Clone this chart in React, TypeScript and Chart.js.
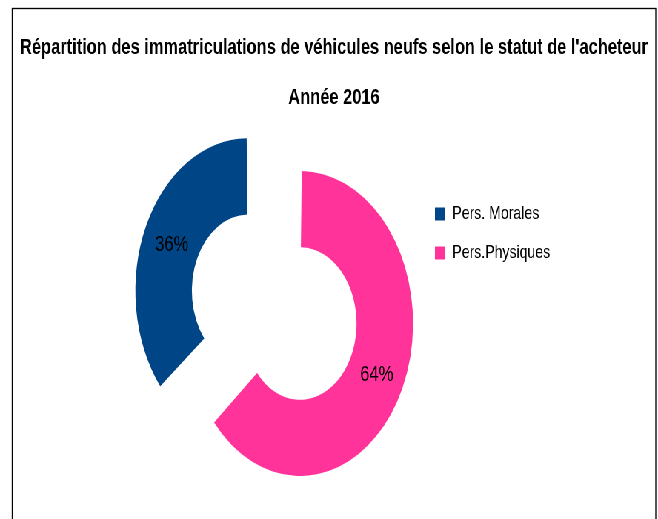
import React, { useEffect, useRef } from 'react';
import { Chart, registerables } from 'chart.js';

Chart.register(...registerables);

// ---- data ----
const categories = ['Pers. Morales', 'Pers.Physiques'];
const shares = [36, 64];
const sliceColors = ['#004586', '#ff3399'];
const titleLine = "Répartition des immatriculations de véhicules neufs selon le statut de l'acheteur";
const subtitleLine = 'Année 2016';

// ---- look ----
const FONT = "'Liberation Sans', Arial, Helvetica, sans-serif";
const SX = 0.741; // horizontal squeeze of the whole picture
const W = 888;
const H = 519;
const FRAME = { left: 16.5, top: 8.5, right: 885, bottom: 540 };
const LABEL_DY = 3;

export default function App() {
  const ref = useRef<HTMLCanvasElement>(null);

  useEffect(() => {
    const canvas = ref.current;
    if (!canvas) return;
    const total = shares.reduce((a, b) => a + b, 0);

    const framePlugin = {
      id: 'frame',
      beforeDraw(chart: any) {
        const ctx = chart.ctx;
        ctx.save();
        ctx.fillStyle = '#ffffff';
        ctx.fillRect(0, 0, chart.width, chart.height);
        ctx.strokeStyle = '#000000';
        ctx.lineWidth = 1.35;
        ctx.strokeRect(FRAME.left, FRAME.top, FRAME.right - FRAME.left, FRAME.bottom - FRAME.top);
        ctx.restore();
      },
      afterDraw(chart: any) {
        const ctx = chart.ctx;
        const cx = (FRAME.left + FRAME.right) / 2;
        ctx.save();
        ctx.fillStyle = '#000000';
        ctx.textAlign = 'center';
        ctx.textBaseline = 'middle';
        ctx.font = `bold 22.2px ${FONT}`;
        ctx.fillText(titleLine, cx, 47.5);
        ctx.fillText(subtitleLine, cx, 98);
        ctx.restore();
      },
    };

    const pctPlugin = {
      id: 'pctLabels',
      afterDatasetsDraw(chart: any) {
        const ctx = chart.ctx;
        const meta = chart.getDatasetMeta(0);
        ctx.save();
        ctx.fillStyle = '#000000';
        ctx.textAlign = 'center';
        ctx.textBaseline = 'middle';
        ctx.font = `22.5px ${FONT}`;
        meta.data.forEach((arc: any, i: number) => {
          const { x, y, startAngle, endAngle, innerRadius, outerRadius, circumference } = arc;
          const off = (arc.options.offset || 0) / 4;
          const fix = 1 - Math.sin(Math.min(Math.PI, circumference || 0));
          const mid = (startAngle + endAngle) / 2;
          const r = (innerRadius + outerRadius) / 2 + off * (1 + fix);
          ctx.fillText(
            `${Math.round((shares[i] / total) * 100)}%`,
            x + Math.cos(mid) * r,
            y + Math.sin(mid) * r + LABEL_DY
          );
        });
        ctx.restore();
      },
    };

    const chart = new Chart(canvas, {
      type: 'doughnut',
      data: {
        labels: categories,
        datasets: [
          {
            data: shares,
            backgroundColor: sliceColors,
            borderWidth: 0,
            offset: [250.8, 57.6],
            clip: false,
          } as any,
        ],
      },
      options: {
        responsive: false,
        animation: false,
        events: [],
        rotation: 360 * (1 - shares[0] / total),
        circumference: 360,
        radius: 138.1,
        cutout: '44.8%',
        layout: { padding: { left: 216.8, right: 141, top: 184.5, bottom: 68.7 } },
        plugins: {
          title: { display: false },
          tooltip: { enabled: false },
          legend: {
            display: true,
            position: 'right',
            align: 'start',
            maxWidth: 180,
            labels: {
              boxWidth: 14,
              boxHeight: 13,
              padding: 20,
              color: '#000000',
              font: { family: FONT, size: 19 },
            },
          },
        },
      } as any,
      plugins: [framePlugin, pctPlugin],
    });

    return () => chart.destroy();
  }, []);

  return (
    <div
      style={{
        position: 'fixed',
        left: 0,
        top: 0,
        width: W,
        height: H,
        transform: `scaleX(${SX})`,
        transformOrigin: '0 0',
        background: '#ffffff',
      }}
    >
      <canvas ref={ref} width={W} height={H} style={{ display: 'block' }} />
    </div>
  );
}
